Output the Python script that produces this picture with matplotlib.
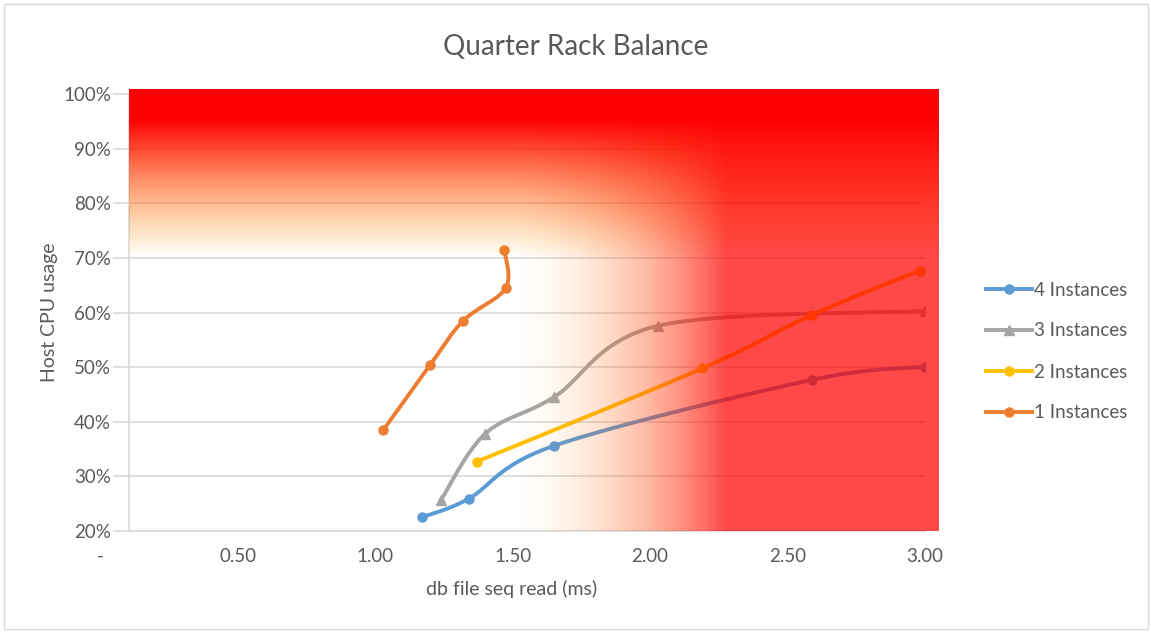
import matplotlib
matplotlib.use("Agg")
import matplotlib.pyplot as plt
from matplotlib.lines import Line2D
from matplotlib.patches import Rectangle
import numpy as np

plt.rcParams['font.family'] = ['Lato', 'DejaVu Sans']

# values: x = db file seq read (ms), y = host cpu usage
inst4_x = [1.17, 1.34, 1.65, 2.59, 3.00]
inst4_y = [0.225, 0.259, 0.356, 0.477, 0.501]
inst3_x = [1.24, 1.40, 1.65, 2.03, 3.00]
inst3_y = [0.257, 0.378, 0.445, 0.576, 0.603]
inst2_x = [1.37, 2.19, 2.59, 2.98]
inst2_y = [0.327, 0.498, 0.596, 0.677]
inst1_x = [1.03, 1.20, 1.32, 1.475, 1.47]
inst1_y = [0.385, 0.504, 0.585, 0.645, 0.715]

x_ticks = [0.5, 1.0, 1.5, 2.0, 2.5, 3.0]
y_ticks = [0.2, 0.3, 0.4, 0.5, 0.6, 0.7, 0.8, 0.9, 1.0]

TXT = '#595959'
GRID = '#d9d9d9'
W, H = 1151, 633


def smooth(xs, ys, n=40):
	# excel style smoothed line (catmull-rom as bezier)
	p = np.column_stack([xs, ys]).astype(float)
	pts = np.vstack([p[0], p, p[-1]])
	out = []
	t = np.linspace(0, 1, n)[:, None]
	for i in range(1, len(pts) - 2):
		p0, p1, p2, p3 = pts[i - 1], pts[i], pts[i + 1], pts[i + 2]
		c1 = p1 + (p2 - p0) / 6
		c2 = p2 - (p3 - p1) / 6
		seg = ((1 - t) ** 3) * p1 + 3 * ((1 - t) ** 2) * t * c1 + 3 * (1 - t) * t ** 2 * c2 + t ** 3 * p2
		out.append(seg if i == 1 else seg[1:])
	out = np.vstack(out)
	return out[:, 0], out[:, 1]


fig = plt.figure(figsize=(W / 100, H / 100), dpi=100)
ax = fig.add_axes([129 / W, (H - 531) / H, (925 - 129) / W, (531 - 94.3) / H])

series = [
	("4 Instances", inst4_x, inst4_y, '#5B9BD5', 'o'),
	("1 Instances", inst1_x, inst1_y, '#ED7D31', 'o'),
	("3 Instances", inst3_x, inst3_y, '#A5A5A5', '^'),
	("2 Instances", inst2_x, inst2_y, '#FFC000', 'o'),
]
handles = {}
for name, xs, ys, col, mk in series:
	sx, sy = smooth(xs, ys)
	ax.plot(sx, sy, color=col, lw=2.8, solid_capstyle='round', zorder=3)
	ax.plot(xs, ys, ls='none', marker=mk, ms=6.5, color=col, zorder=4)
	handles[name] = Line2D([], [], color=col, lw=2.8, marker=mk, ms=6.5)

ax.set_xlim(0.105, 3.0)
ax.set_ylim(0.2, 1.0)
ax.set_xticks(x_ticks)
ax.set_xticklabels(["%.2f" % v for v in x_ticks])
ax.set_yticks(y_ticks)
ax.set_yticklabels(["%d%%" % round(v * 100) for v in y_ticks])
ax.yaxis.grid(True, color=GRID, lw=1.2, zorder=0)
ax.set_axisbelow(True)
ax.tick_params(axis='x', length=0, pad=12, labelsize=13.5, labelcolor=TXT)
ax.tick_params(axis='y', length=11.5, width=1.2, color=GRID, pad=1.5, labelsize=13.5, labelcolor=TXT)
for sp in ['top', 'right']:
	ax.spines[sp].set_visible(False)
for sp in ['left', 'bottom']:
	ax.spines[sp].set_color(GRID)
	ax.spines[sp].set_linewidth(1.2)
ax.annotate('-', xy=(0, 0), xycoords=('data', 'axes fraction'), xytext=(0, -12),
			textcoords='offset points', ha='center', va='top', fontsize=13.5, color=TXT,
			annotation_clip=False)

# red "danger" overlay drawn on top of the plot
ov = fig.add_axes([129 / W, (H - 531) / H, (939 - 129) / W, (531 - 89) / H])
ox0, ox1, oy0, oy1 = 0.105, 3.051, 0.2, 1.01
gx = np.linspace(ox0, ox1, 800)
gy = np.linspace(oy0, oy1, 500)
X, Y = np.meshgrid(gx, gy)
s = np.clip((Y - 0.70) / (0.955 - 0.70), 0, 1)
a_t = s ** 0.9
h = np.clip((X - 1.5) / (2.28 - 1.5), 0, 1)
g_t = 170 * (1 - s) ** 1.1 * (1 - 0.7 * h)
a_r = 0.72 * h ** 1.5
g_r = 160 * (1 - h)
A = a_t + a_r * (1 - a_t)
G = (g_t * a_t + g_r * a_r * (1 - a_t)) / np.maximum(A, 1e-6)
rgba = np.zeros(Y.shape + (4,))
rgba[..., 0] = 1.0
rgba[..., 1] = G / 255
rgba[..., 3] = A
ov.imshow(rgba, extent=(ox0, ox1, oy0, oy1), origin='lower', aspect='auto', interpolation='bilinear')
ov.set_xlim(ox0, ox1)
ov.set_ylim(oy0, oy1)
ov.axis('off')

fig.text(576 / W, 1 - 55 / H, "Quarter Rack Balance", ha='center', va='baseline', fontsize=20, color=TXT)
fig.text(49 / W, 1 - 312 / H, "Host CPU usage", ha='center', va='center', rotation=90, fontsize=14, color=TXT)
fig.text(512 / W, 1 - 589 / H, "db file seq read (ms)", ha='center', va='center', fontsize=14, color=TXT)

order = ["4 Instances", "3 Instances", "2 Instances", "1 Instances"]
fig.legend([handles[k] for k in order], order, loc='center left', bbox_to_anchor=(986 / W, 1 - 351.5 / H),
		   frameon=False, fontsize=13.5, labelcolor=TXT, handlelength=2.45, handletextpad=0.1,
		   labelspacing=1.28, borderpad=0, borderaxespad=0)

fig.add_artist(Rectangle((4 / W, 4 / H), 1144 / W, 625 / H, transform=fig.transFigure,
						 fill=False, edgecolor=GRID, lw=1))

fig.savefig("out.png", dpi=100)
